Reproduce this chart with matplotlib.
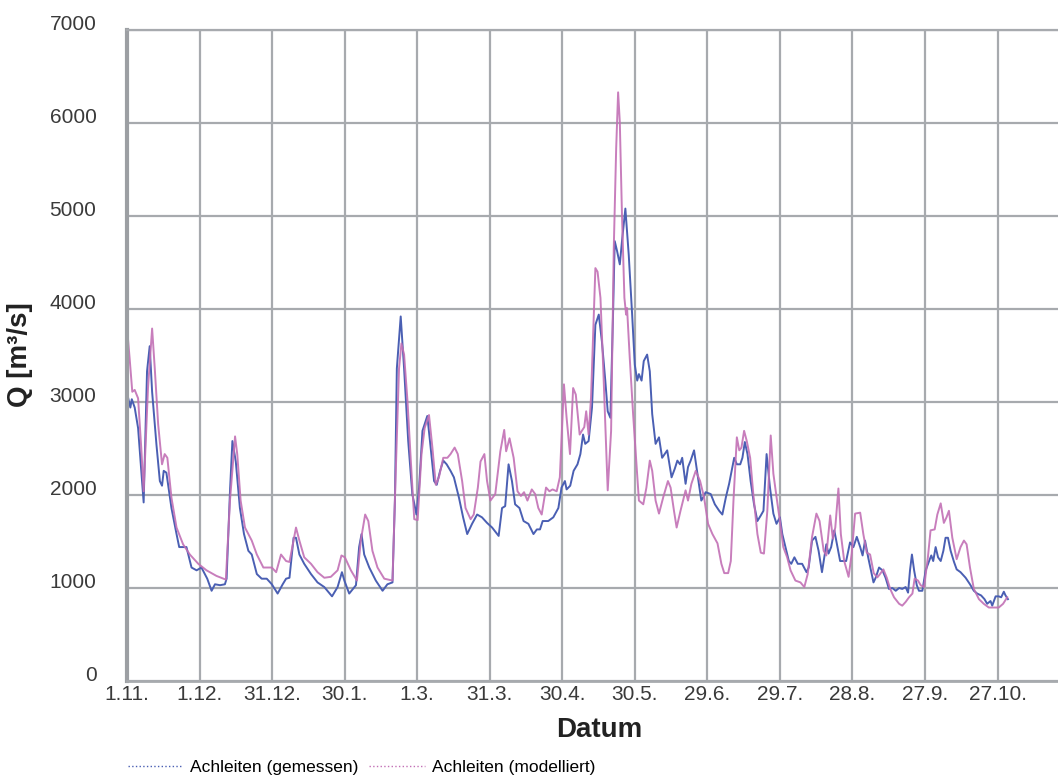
import matplotlib
matplotlib.use('Agg')
import matplotlib.pyplot as plt
from matplotlib.lines import Line2D

plt.rcParams['font.family'] = ['Liberation Sans', 'DejaVu Sans']

# Tage ab 1.11. und Abfluss Q [m3/s]
tage_gemessen = [0, 1.4, 2, 3.2, 4.6, 6.9, 8.3, 9.4, 10.4, 12.2, 13.6, 14.5, 15.2, 16.3, 18.4, 20.5, 21.6, 24.6,
                 26.7, 28.8, 30.8, 33.2, 35, 36.4, 38.5, 40.5, 41.2, 42.6, 43.6, 45, 46.7, 48.4, 50.2, 51.6, 53.7,
                 55.7, 57.8, 59.9, 62.3, 64.4, 65.8, 67.2, 68.9, 69.9, 71.3, 73.3, 76.1, 78.8, 81.6, 84.8, 87.1,
                 88.9, 89.9, 91.9, 94.7, 96, 97, 98.1, 100.2, 102.9, 105.7, 107.7, 109.8, 110.8, 111.6, 113.2,
                 114.6, 116.3, 118, 119.7, 120.8, 122.2, 124.2, 125.3, 127, 128.1, 129.5, 130.8, 132.2, 133.8,
                 135.2, 137.3, 139, 140.7, 142.7, 144.8, 146.8, 148.9, 151, 153.7, 155.1, 156.4, 157.8, 159.2,
                 160.5, 162.3, 164, 166, 168.1, 169.5, 170.8, 171.9, 174.2, 176.3, 178.4, 179.7, 181.1, 181.8,
                 183.3, 184.7, 186.3, 187.5, 188.6, 189.5, 190.9, 192.3, 193.7, 195.1, 196.4, 197.8, 198.8, 199.9,
                 201, 201.7, 202.7, 203.8, 204.7, 206.1, 207.5, 208.9, 210, 211, 211.7, 212.8, 213.7, 215.1,
                 216.2, 217.2, 218.6, 220, 221.3, 223.4, 225.2, 226.5, 227.6, 228.7, 229.6, 231, 232, 233.1,
                 234.5, 235.9, 237.5, 238.4, 239.3, 241.4, 243.1, 244.9, 246.2, 247.7, 249, 251.1, 252.2, 253.6,
                 254.5, 255.5, 256.6, 257.9, 259.3, 260.7, 262.1, 263.2, 264.5, 265.9, 267.3, 268.6, 270, 271,
                 272.3, 273.7, 274.7, 276, 277.4, 279.2, 281, 281.9, 283.3, 284.7, 286, 287.4, 289.2, 290.1,
                 291.2, 292.5, 293.8, 294.9, 297.4, 299, 300.4, 301.8, 303.2, 304.2, 305.2, 306.5, 308.7, 309.6,
                 311, 312.4, 313.7, 315.1, 316.5, 317.9, 319.3, 320.6, 322, 323, 323.8, 324.6, 325.5, 326.6,
                 327.5, 328.9, 330.3, 331.7, 332.6, 333.4, 334.4, 335.4, 336.5, 337.6, 338.5, 339.5, 340.6, 342,
                 343.1, 344.7, 346.8, 348.6, 350.2, 351.6, 353.2, 354.6, 355.7, 357.1, 357.8, 359.2, 360.5,
                 361.5, 362.6, 363.3, 364.3]
q_gemessen = [3100, 2940, 3030, 2940, 2720, 1920, 3330, 3600, 3110, 2540, 2150, 2100, 2260, 2240, 1860, 1580, 1440, 1440,
              1220, 1190, 1220, 1100, 970, 1040, 1030, 1040, 1100, 2040, 2580, 2360, 1860, 1580, 1400, 1360, 1150,
              1100, 1100, 1040, 940, 1040, 1100, 1110, 1540, 1540, 1360, 1260, 1150, 1060, 1010, 910, 1010,
              1170, 1080, 940, 1030, 1440, 1580, 1360, 1220, 1080, 970, 1040, 1060, 1940, 3360, 3920,
              3360, 2580, 2010, 1790, 2080, 2690, 2850, 2580, 2150, 2110, 2260, 2370, 2330, 2260,
              2190, 1970, 1760, 1580, 1690, 1790, 1760, 1700, 1650, 1560, 1860, 1880, 2330, 2150,
              1900, 1860, 1720, 1690, 1580, 1630, 1630, 1720, 1720, 1760, 1860, 2080, 2150, 2060,
              2100, 2260, 2330, 2440, 2650, 2550, 2580, 2940, 3830, 3940, 3650, 3230, 2900, 2830,
              3940, 4730, 4620, 4480, 4730, 5080, 4580, 3940, 3400, 3230, 3300, 3230, 3440, 3510,
              3330, 2870, 2550, 2620, 2400, 2480, 2190, 2280, 2370, 2330, 2400, 2120, 2300, 2370,
              2480, 2230, 1940, 1980, 2030, 2010, 1900, 1830, 1790, 1980, 2120, 2400, 2330, 2330,
              2400, 2570, 2440, 2150, 1900, 1720, 1780, 1830, 2440, 2080, 1800, 1690, 1760, 1580,
              1440, 1290, 1260, 1330, 1260, 1260, 1170, 1220, 1510, 1550, 1400, 1170, 1470, 1370,
              1440, 1620, 1440, 1290, 1290, 1490, 1440, 1550, 1440, 1350, 1510, 1330, 1060, 1110,
              1220, 1190, 1110, 990, 1000, 970, 1000, 990, 1010, 950, 1190, 1360, 1190, 1030,
              970, 970, 1190, 1290, 1350, 1290, 1440, 1330, 1290, 1400, 1540, 1540, 1400, 1280,
              1200, 1170, 1110, 1040, 970, 940, 920, 880, 830, 860, 810, 910, 910,
              900, 960, 920, 880]

tage_modell = [0, 1.1, 2.2, 3.2, 4.6, 5.9, 6.9, 8.7, 10.4, 11.5, 12.9, 14.5, 15.6, 16.7, 18.4, 20.5, 23.2, 26,
               29.5, 32.9, 37, 40.9, 42.6, 44.7, 45.6, 47, 48.8, 51.6, 53.7, 56.4, 59.9, 61.7, 63.7, 65.8, 67.2,
               69.9, 71.3, 73.3, 76.1, 78.8, 81.6, 84.3, 87.1, 88.7, 90.1, 92.6, 95.1, 96.7, 98.5, 99.8, 101.5,
               103.6, 106.4, 109.8, 111.2, 112.5, 113.5, 114.6, 116, 117.4, 118.8, 120.2, 121.8, 123.1, 124.9,
               126.3, 127.7, 129, 130.8, 132.5, 133.8, 135.5, 136.8, 138.6, 140, 142.1, 143.4, 145.1, 146.2,
               147.8, 148.9, 150.3, 152.3, 154.4, 156, 156.8, 158.2, 159.9, 161.5, 162.9, 164.2, 165.6, 167.4,
               168.8, 170.1, 171.5, 173.3, 174.7, 176, 177.7, 179, 180.7, 181.8, 183.2, 184.5, 185.6, 187.2,
               188.1, 189.1, 189.9, 190.9, 191.9, 193.7, 194.6, 195.8, 197.1, 198.8, 200.2, 201.3, 202.3, 203.1,
               203.8, 204.7, 205.7, 206.4, 206.8, 207.9, 209.3, 210.7, 211.7, 213.5, 214.8, 216.2, 217.2, 218.6,
               220, 221.8, 223.7, 224.8, 226.2, 227.3, 228.9, 231, 232, 233.4, 235.2, 237, 238.6, 240.3, 242.1,
               244.2, 245.8, 247, 248.6, 249.7, 250.8, 252.2, 253.2, 254.1, 255.2, 256.3, 257.7, 259, 260.7,
               262.1, 263.4, 264.8, 266.2, 267.3, 268.6, 270, 271.4, 273, 274.4, 276.4, 278.5, 280.1, 281.5,
               283.3, 285.1, 286.4, 288.1, 289.2, 290.8, 291.9, 292.9, 294.2, 295.2, 296.6, 298.4, 299.7, 301.1,
               303.2, 304.5, 305.9, 307.3, 308.8, 310.3, 311.4, 312.8, 314.2, 315.6, 317.2, 319.3, 320.6, 322,
               323.4, 324.8, 325.7, 327.1, 328.2, 329.6, 331.2, 332.3, 334, 335.1, 336.5, 337.8, 338.9, 339.9,
               341.3, 343.1, 344.7, 346.1, 347.2, 348.6, 350.2, 352.3, 354.3, 356.4, 358.5, 360.5, 362.3, 364]
q_modell = [3810, 3470, 3110, 3130, 3040, 2510, 2040, 3150, 3790, 3360, 2760, 2330, 2440, 2400, 1970, 1650, 1470, 1360,
            1260, 1190, 1130, 1090, 1940, 2630, 2440, 1940, 1650, 1510, 1360, 1220, 1220, 1170, 1360, 1290, 1280,
            1650, 1510, 1330, 1260, 1170, 1110, 1120, 1190, 1350, 1330, 1190, 1080, 1510, 1790, 1720, 1400,
            1220, 1100, 1080, 2290, 3360, 3630, 3510, 3010, 2360, 1740, 1730, 2440, 2720, 2860,
            2510, 2110, 2190, 2400, 2400, 2440, 2510, 2440, 2150, 1860, 1740, 1790, 2080, 2360,
            2440, 2150, 1940, 2010, 2470, 2700, 2470, 2610, 2400, 2040, 1990, 2030, 1940, 2060,
            2010, 1860, 1790, 2080, 2040, 2060, 2040, 2190, 3190, 2830, 2440, 3150, 3080, 2650,
            2690, 2730, 2900, 2650, 3050, 4440, 4400, 4120, 3260, 2050, 2690, 4650, 5730, 6330,
            6010, 5010, 4120, 3940, 4010, 3480, 2870, 2330, 1940, 1900, 2080, 2370, 2260, 1940,
            1800, 1980, 2150, 2080, 1830, 1650, 1830, 2050, 1940, 2120, 2260, 2150, 1980, 1690, 1580,
            1480, 1260, 1160, 1160, 1290, 1940, 2620, 2480, 2510, 2690, 2580, 2400, 2010, 1580,
            1380, 1370, 1830, 2640, 2230, 1980, 1720, 1440, 1330, 1190, 1080, 1060, 1010, 1150,
            1550, 1800, 1720, 1400, 1350, 1780, 1530, 1650, 2070, 1580, 1290, 1120, 1370, 1800,
            1810, 1580, 1380, 1360, 1160, 1114, 1150, 1200, 1110, 990, 900, 830, 810, 850,
            900, 940, 1100, 1080, 1030, 1010, 1330, 1620, 1630, 1790, 1910, 1700, 1760, 1830,
            1540, 1310, 1440, 1510, 1470, 1220, 990, 880, 830, 790, 790, 790, 830, 900]

tick_tage = [0, 30, 60, 90, 120, 150, 180, 210, 240, 270, 300, 330, 360]
tick_labels = ['1.11.', '1.12.', '31.12.', '30.1.', '1.3.', '31.3.', '30.4.', '30.5.',
               '29.6.', '29.7.', '28.8.', '27.9.', '27.10.']
q_ticks = [0, 1000, 2000, 3000, 4000, 5000, 6000, 7000]

farbe_gem = '#4a5fb3'
farbe_mod = '#c270b5'
grau = '#a7aaae'

fig = plt.figure(figsize=(10.58, 7.78), dpi=100)
ax = fig.add_axes([0.12, 0.1247, 0.88, 0.8367])

ax.plot(tage_gemessen, q_gemessen, color=farbe_gem, lw=1.4)
ax.plot(tage_modell, q_modell, color=farbe_mod, lw=1.4, alpha=0.9)

ax.set_xlim(0, 385)
ax.set_ylim(0, 7000)
ax.set_xticks(tick_tage, labels=tick_labels)
ax.set_yticks(q_ticks, labels=[str(v) for v in q_ticks])
ax.grid(True, color=grau, lw=1.6)
ax.set_axisbelow(True)
ax.tick_params(length=0, labelsize=15, colors='#3a3a3a')
ax.tick_params(axis='y', pad=22)
ax.tick_params(axis='x', pad=3)
for lab in ax.get_yticklabels():
    lab.set_verticalalignment('baseline')

ax.spines['right'].set_visible(False)
ax.spines['top'].set_color(grau)
ax.spines['top'].set_linewidth(1.6)
ax.spines['left'].set_color('#9c9fa3')
ax.spines['left'].set_linewidth(3)
ax.spines['bottom'].set_color(grau)
ax.spines['bottom'].set_linewidth(2)

fig.text(20 / 1058, 1 - 355 / 778, 'Q [m³/s]', rotation=90, ha='center', va='center',
         fontsize=20, fontweight='bold', color='#222222')
fig.text(599 / 1058, 1 - 730 / 778, 'Datum', ha='center', va='center',
         fontsize=20, fontweight='bold', color='#222222')

handles = [Line2D([], [], color=farbe_gem, ls=':', lw=1),
           Line2D([], [], color=farbe_mod, ls=':', lw=1)]
fig.legend(handles, ['Achleiten (gemessen)', 'Achleiten (modelliert)'],
           loc='center left', bbox_to_anchor=(0.106, 0.013), ncol=2, frameon=False,
           fontsize=12.5, handlelength=3.2, handletextpad=0.4, columnspacing=0.6)

fig.savefig('out.png', dpi=100)
